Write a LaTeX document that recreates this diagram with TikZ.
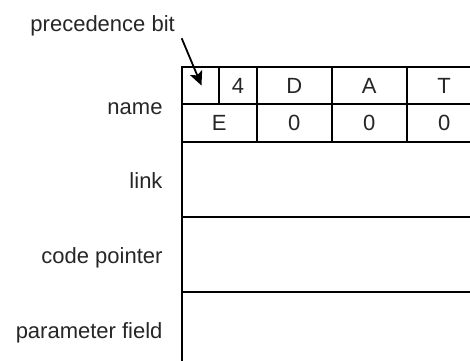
\documentclass[tikz,border=0pt]{standalone}
\usepackage{fontspec}
\setmainfont{Liberation Sans}
\usetikzlibrary{arrows.meta}
\tikzset{
  lbl/.style={anchor=base east, inner sep=0pt, text=black!85, font=\fontsize{22}{26}\selectfont},
  cell/.style={draw=black, line width=1.8pt, inner sep=0pt, text=black!85, font=\fontsize{22}{26}\selectfont},
  arr/.style={draw=black, line width=1.8pt, -{Stealth[length=14pt, width=13pt, inset=3pt]}}
}
\begin{document}
\begin{tikzpicture}[x=1pt, y=-1pt]
\useasboundingbox (0,0) rectangle (470,360);
\clip (0,0) rectangle (470,360);
% row 1 of name field
\node[cell, minimum width=37.5pt, minimum height=37.5pt] (pb) at (200.45,85.45) {};
\node[cell, minimum width=37.5pt, minimum height=37.5pt] (c4) at (237.95,85.45) {4};
\node[cell, minimum width=75pt, minimum height=37.5pt] (cD) at (294.2,85.45) {D};
\node[cell, minimum width=75pt, minimum height=37.5pt] (cA) at (369.2,85.45) {A};
\node[cell, minimum width=75pt, minimum height=37.5pt] (cT) at (444.2,85.45) {T};
% row 2 of name field
\node[cell, minimum width=75pt, minimum height=37.5pt] (cE) at (219.2,122.95) {E};
\node[cell, minimum width=75pt, minimum height=37.5pt] (z1) at (294.2,122.95) {0};
\node[cell, minimum width=75pt, minimum height=37.5pt] (z2) at (369.2,122.95) {0};
\node[cell, minimum width=75pt, minimum height=37.5pt] (z3) at (444.2,122.95) {0};
% other fields
\node[cell, minimum width=300pt, minimum height=75pt] (flink) at (331.7,179.2) {};
\node[cell, minimum width=300pt, minimum height=75pt] (fcode) at (331.7,254.2) {};
\node[cell, minimum width=300pt, minimum height=75pt] (fparam) at (331.7,329.2) {};
% labels
\node[lbl] (lname) at (162.7,114) {name};
\node[lbl] (llink) at (162.7,188.7) {link};
\node[lbl] (lcode) at (162.7,263.7) {code pointer};
\node[lbl] (lparam) at (162.7,338.7) {parameter field};
\node[lbl] (lprec) at (175,31.5) {precedence bit};
% arrow
\coordinate (astart) at (181.7,38.3);
\coordinate (aend) at (201.5,85.5);
\draw[arr] (astart) -- (aend);
\end{tikzpicture}
\end{document}
